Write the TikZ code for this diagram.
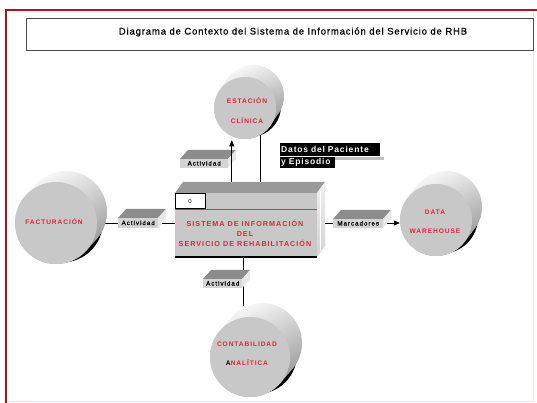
\documentclass[tikz,border=0pt]{standalone}
\usepackage{fontspec}
\setmainfont{Liberation Sans}
\newfontfamily\titlefont[LetterSpace=9,FakeBold=0.8]{Liberation Sans}
\newfontfamily\redlbl[LetterSpace=14]{Liberation Sans}
\newfontfamily\slabfont[LetterSpace=16,FakeBold=0.6]{Liberation Sans}
\newfontfamily\datfont[LetterSpace=10]{Liberation Sans}
\usetikzlibrary{arrows.meta,calc}
\pgfdeclarelayer{bg}
\pgfsetlayers{bg,main}
\definecolor{frontgray}{RGB}{200,200,200}
\definecolor{slabfront}{RGB}{212,212,212}
\definecolor{slabtop}{RGB}{140,140,140}
\definecolor{slabside}{RGB}{232,232,232}
\definecolor{redtxt}{RGB}{215,40,50}
\definecolor{framered}{RGB}{175,20,25}

\newcommand\cylshape[6]{%
  \fill[black] ({#2+0.5*#5+1},{#3+0.5*#6-4}) circle[radius=#4];
  \shade[top color=white, bottom color=black!45, shading angle=25]
    ({#2+#4*cos(140)},{#3+#4*sin(140)}) arc[start angle=140,end angle=320,radius=#4]
    -- ({#2+#5+#4*cos(320)},{#3+#6+#4*sin(320)}) arc[start angle=320,end angle=500,radius=#4] -- cycle;
  \node[circle, fill=frontgray, inner sep=0, minimum size={2*#4*1pt}] (#1) at (#2,#3) {};
}
\newcommand\slabshape[6]{%
  \fill[slabtop] (#2,#5) -- (#4,#5) -- ({#4+8},{#5+9}) -- ({#2+8},{#5+9}) -- cycle;
  \fill[slabside] (#4,#3) -- ({#4+8},{#3+9}) -- ({#4+8},{#5+9}) -- (#4,#5) -- cycle;
  \node[fill=slabfront, inner sep=0, anchor=south west,
        minimum width={#4pt-#2pt}, minimum height={#5pt-#3pt},
        font=\slabfont\fontsize{6.2}{7}\selectfont] (#1) at (#2,#3) {#6};
}

\begin{document}
\begin{tikzpicture}[x=1pt,y=1pt,
  conn/.style={draw=black, line width=0.8pt},
  cyltxt/.style={font=\redlbl\bfseries\fontsize{6.6}{7}\selectfont, text=redtxt, inner sep=0},
  dat/.style={fill=black, text=white, font=\datfont\bfseries\fontsize{8.5}{9}\selectfont,
              inner xsep=1pt, inner ysep=0pt, align=left, anchor=north west}]
\useasboundingbox (0,0) rectangle (537,403);
\begin{pgfonlayer}{bg}
\fill[white] (0,0) rectangle (537,403);
\end{pgfonlayer}

% frame
\draw[red!12, line width=1pt] (533,393) -- (533,1) -- (6,1);
\draw[framered, line width=2pt] (6,0) -- (6,393) -- (537,393);

% title
\node[draw=black!70, line width=0.9pt, minimum width=507pt, minimum height=32pt, inner sep=0] (title) at (279.5,369) {};
\node[font=\titlefont\fontsize{9.5}{11}\selectfont, inner sep=0] (titletext) at (293,371)
  {Diagrama de Contexto del Sistema de Información del Servicio de RHB};

% cylinders
\cylshape{est}{245}{295}{31}{8}{12}
\cylshape{fac}{56}{180}{41}{10}{11}
\cylshape{dw}{436}{183}{36}{10}{13}
\cylshape{cont}{250}{46}{40}{12}{14}

\node[cyltxt] (est1) at (247,302) {ESTACIÓN};
\node[cyltxt] (est2) at (247,282) {CLÍNICA};
\node[cyltxt] (fac1) at (54,181) {FACTURACIÓN};
\node[cyltxt] (dw1) at (435,191) {DATA};
\node[cyltxt] (dw2) at (435,172) {WAREHOUSE};
\node[cyltxt] (cont1) at (247,59) {CONTABILIDAD};
\node[cyltxt] (cont2) at (247,40) {\textcolor{black}{A}NALÍTICA};

% process box
\fill[black!40] (175,210) -- (317,210) -- (325,221) -- (183,221) -- cycle;
\shade[top color=gray!12, bottom color=gray!35] (317,146) -- (325,157) -- (325,221) -- (317,210) -- cycle;
\draw[white, line width=0.8pt] (320,152) -- (320,212);
\node[fill=frontgray, minimum width=142pt, minimum height=64pt, inner sep=0] (box) at (246,178) {};
\draw[black!60, line width=0.8pt] (175,194) -- (317,194);
\node[draw=black, line width=1pt, fill=white, minimum width=30pt, minimum height=15pt, inner sep=0,
      anchor=north west, font=\fontsize{6}{7}\selectfont] (zero) at (174.5,210) {0};
\draw[black, line width=1.4pt] (box.south west) -- (box.south east);
\node[font=\redlbl\bfseries\fontsize{7.2}{10}\selectfont, text=redtxt, align=center, inner sep=0] (boxtxt) at (245,170)
  {SISTEMA DE INFORMACIÓN\\DEL\\SERVICIO DE REHABILITACIÓN};
\coordinate (bt) at ($(box.north)+(0,11)$);
\coordinate (rf) at ($(box.east)+(8,2)$);
\coordinate (ct) at (243,97);

% flow slabs
\slabshape{sa}{180}{235}{228}{244}{Actividad}
\slabshape{sb}{118}{175}{158}{185}{Actividad}
\slabshape{sc}{333}{175}{383}{184}{Marcadores}
\slabshape{sd}{203}{115}{242}{124}{Actividad}

% datos del paciente
\fill[gray!50] (335,243) rectangle (384,246);
\node[dat, text width=98pt, minimum height=13pt] (dp1) at (280,260) {Datos del Paciente};
\node[dat, text width=53pt, minimum height=11pt] (dp2) at (280,246) {y Episodio};

% connectors
\begin{pgfonlayer}{bg}
\draw[conn, {Bar[width=5pt]}-, shorten <=6pt] (fac.east) -- (fac.east -| box.west);
\draw[conn, -{Triangle[length=6pt,width=5pt]}] (rf) -- (rf -| dw.west);
\draw[conn] (box.south -| ct) -- (ct);
\end{pgfonlayer}
\draw[conn, -{Triangle[length=6pt,width=5pt]}, shorten >=4pt] (est.245 |- bt) -- (est.245);
\draw[conn] (est.299 |- bt) -- (est.299);
\end{tikzpicture}
\end{document}
